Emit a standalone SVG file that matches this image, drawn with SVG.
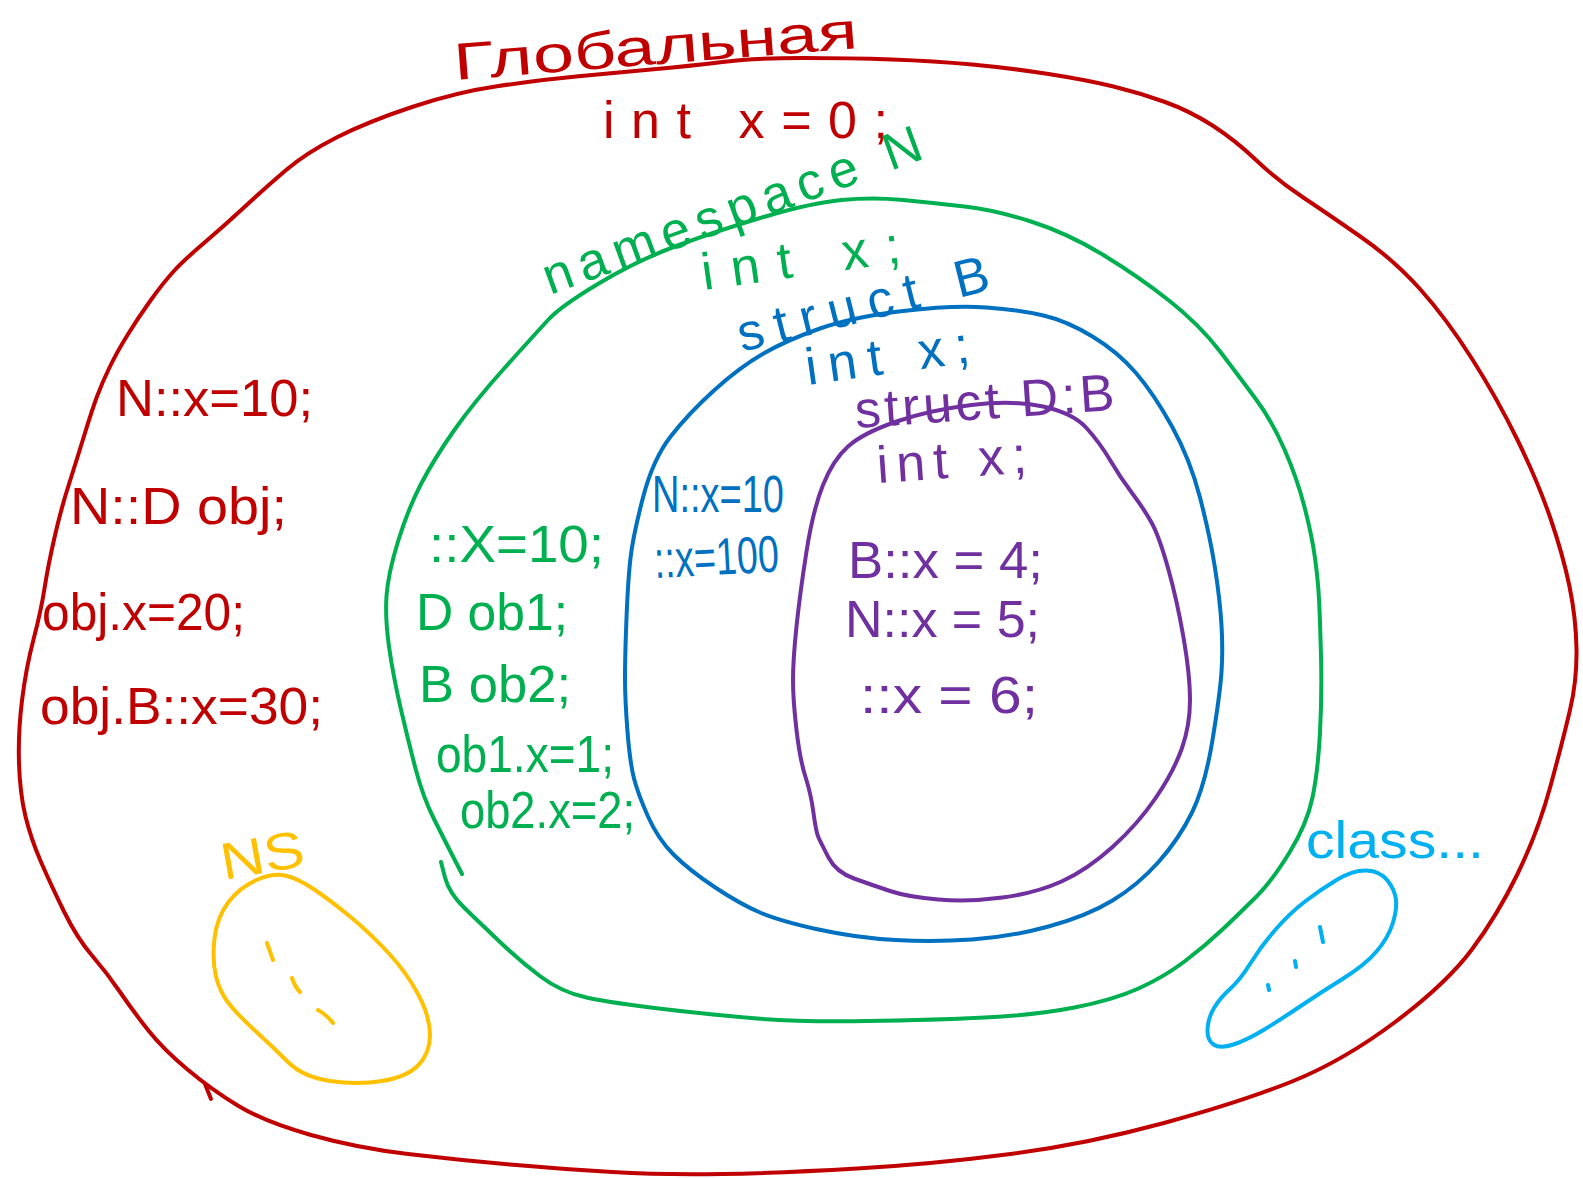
<svg xmlns="http://www.w3.org/2000/svg" width="1583" height="1178" viewBox="0 0 1583 1178">
<style>
.o{fill:none;stroke-width:4;stroke-linecap:round;stroke-linejoin:round}
.t{font-family:"Liberation Sans","DejaVu Sans",sans-serif;font-size:52px}
.red{stroke:#c00000}.tr{fill:#c00000}
.grn{stroke:#00b050}.tg{fill:#00b050}
.blu{stroke:#0070c0}.tb{fill:#0070c0}
.pur{stroke:#7030a0}.tp{fill:#7030a0}
.yel{stroke:#ffc000}.ty{fill:#ffc000}
.cya{stroke:#00b0f0}.tc{fill:#00b0f0}
</style>
<rect width="1583" height="1178" fill="#ffffff"/>

<g id="global-scope">
<path class="o red" d="M 412,107 Q 457,92 498.5,86 Q 540,80 576,76.5 Q 612,73 651,69.5 Q 690,66 722.5,62 Q 755,58 802.5,58 Q 850,58 892,59.5 Q 934,61 972,64.5 Q 1010,68 1048.5,74 Q 1087,80 1113.5,86.5 Q 1140,93 1165,102 Q 1190,111 1212.5,125.5 Q 1235,140 1256,160 Q 1277,180 1302.5,197 Q 1328,214 1361,237 Q 1394,260 1420,289 Q 1446,318 1471.5,358 Q 1497,398 1517.5,440 Q 1538,482 1550.5,518.5 Q 1563,555 1569.5,586.5 Q 1576,618 1576.5,649 Q 1577,680 1570,710 Q 1563,740 1550.5,786 Q 1538,832 1517.5,874 Q 1497,916 1471.5,950 Q 1446,984 1394.5,1022.5 Q 1343,1061 1292,1081.5 Q 1241,1102 1164,1123 Q 1087,1144 1010.5,1154 Q 934,1164 857,1168.5 Q 780,1173 721.5,1174 Q 663,1175 612,1172 Q 561,1169 510,1164.5 Q 459,1160 408,1154 Q 357,1148 311,1135 Q 265,1122 238.5,1106 Q 212,1090 187.5,1069.5 Q 163,1049 148,1030 Q 133,1011 120,992 Q 107,973 92,955.5 Q 77,938 64,911.5 Q 51,885 41,862 Q 31,839 25.5,816.5 Q 20,794 19,763.5 Q 18,733 22,700.5 Q 26,668 33.5,639.5 Q 41,611 44.5,588.5 Q 48,566 54.5,537.5 Q 61,509 69,484 Q 77,459 84.5,434.5 Q 92,410 97,396.5 Q 102,383 109.5,367.5 Q 117,352 127.5,335 Q 138,318 150.5,300.5 Q 163,283 173.5,271.5 Q 184,260 204,243 Q 224,226 244.5,207 Q 265,188 285.5,170.5 Q 306,153 336.5,137.5 Q 367,122 412,107 Z"/>
<path class="o red" d="M 205,1084 L 211,1099"/>
<text class="t tr" x="455" y="80" font-size="58" textLength="405" lengthAdjust="spacingAndGlyphs" transform="rotate(-4.5 455 80)">Глобальная</text>
<text class="t tr" x="603" y="138" font-size="54" textLength="285" lengthAdjust="spacing">int x=0;</text>
<text class="t tr" x="116" y="416" font-size="54" textLength="197" lengthAdjust="spacingAndGlyphs">N::x=10;</text>
<text class="t tr" x="70" y="524" font-size="54" textLength="217" lengthAdjust="spacingAndGlyphs">N::D obj;</text>
<text class="t tr" x="42" y="630" font-size="54" textLength="203" lengthAdjust="spacingAndGlyphs">obj.x=20;</text>
<text class="t tr" x="40" y="724" font-size="54" textLength="283" lengthAdjust="spacingAndGlyphs">obj.B::x=30;</text>
</g>

<g id="namespace-N">
<path class="o grn" d="M 441,862 L 445,877.5 Q 449,893 464.5,908 Q 480,923 500,942 Q 520,961 540.5,976.5 Q 561,992 586.5,997.5 Q 612,1003 663,1009 Q 714,1015 757,1018.5 Q 800,1022 867,1021 Q 934,1020 985,1017.5 Q 1036,1015 1074.5,1007.5 Q 1113,1000 1138.5,988.5 Q 1164,977 1184.5,961.5 Q 1205,946 1223,929 Q 1241,912 1256.5,896.5 Q 1272,881 1289.5,852.5 Q 1307,824 1312.5,797.5 Q 1318,771 1320,732.5 Q 1322,694 1321,656 Q 1320,618 1319,599 Q 1318,580 1315,558 Q 1312,536 1304.5,507 Q 1297,478 1284.5,449.5 Q 1272,421 1256.5,400 Q 1241,379 1220.5,352 Q 1200,325 1169,300.5 Q 1138,276 1102.5,254.5 Q 1067,233 1031,221.5 Q 995,210 964.5,206.5 Q 934,203 903,200 Q 872,197 841.5,200 Q 811,203 765.5,216.5 Q 720,230 679,245 Q 638,260 599.5,283 Q 561,306 548.5,319.5 Q 536,333 505,367.5 Q 474,402 454,430.5 Q 434,459 421,484 Q 408,509 398,541.5 Q 388,574 386.5,596 Q 385,618 389,646.5 Q 393,675 400.5,707.5 Q 408,740 415.5,768.5 Q 423,797 433.5,818 Q 444,839 453,856.5 L 462,874"/>
<text class="t tg" x="550" y="295" font-size="62" textLength="400" lengthAdjust="spacing" transform="rotate(-20 550 295)">namespace N</text>
<text class="t tg" x="704" y="290" font-size="54" textLength="200" lengthAdjust="spacing" transform="rotate(-8 704 290)">int x;</text>
<text class="t tg" x="429" y="562" font-size="54" textLength="175" lengthAdjust="spacingAndGlyphs">::X=10;</text>
<text class="t tg" x="416" y="630" font-size="52" textLength="152" lengthAdjust="spacingAndGlyphs">D ob1;</text>
<text class="t tg" x="419" y="702" font-size="52" textLength="152" lengthAdjust="spacingAndGlyphs">B ob2;</text>
<text class="t tg" x="436" y="772" font-size="50" textLength="178" lengthAdjust="spacingAndGlyphs">ob1.x=1;</text>
<text class="t tg" x="460" y="828" font-size="50" textLength="175" lengthAdjust="spacingAndGlyphs">ob2.x=2;</text>
</g>

<g id="struct-B">
<path class="o blu" d="M 820,328.5 Q 853,317 903,311 Q 953,305 986.5,307.5 Q 1020,310 1043.5,315.5 Q 1067,321 1092.5,336.5 Q 1118,352 1136,373 Q 1154,394 1172,426.5 Q 1190,459 1200,497.5 Q 1210,536 1215,568 Q 1220,600 1221.5,625 Q 1223,650 1221.5,672 Q 1220,694 1212.5,740 Q 1205,786 1192,812.5 Q 1179,839 1158.5,862 Q 1138,885 1112.5,900.5 Q 1087,916 1048.5,926.5 Q 1010,937 972,939.5 Q 934,942 895.5,940 Q 857,938 818.5,929.5 Q 780,921 760,912.5 Q 740,904 714.5,887 Q 689,870 673.5,854.5 Q 658,839 648,816.5 Q 638,794 634,778.5 Q 630,763 627.5,731.5 Q 625,700 625,678 Q 625,656 626.5,618 Q 628,580 630.5,558 Q 633,536 643,497.5 Q 653,459 671,436 Q 689,413 714.5,390 Q 740,367 763.5,353.5 Q 787,340 820,328.5 Z"/>
<text class="t tb" x="742" y="352" font-size="56" textLength="258" lengthAdjust="spacing" transform="rotate(-14 742 352)">struct B</text>
<text class="t tb" x="808" y="385" font-size="52" textLength="165" lengthAdjust="spacing" transform="rotate(-8 808 385)">int x;</text>
<text class="t tb" x="652" y="512" font-size="42" textLength="132" lengthAdjust="spacingAndGlyphs">N::x=10</text>
<text class="t tb" x="655" y="578" font-size="36" textLength="125" lengthAdjust="spacingAndGlyphs" transform="rotate(-3 655 578)">::x=100</text>
</g>

<g id="struct-D">
<path class="o pur" d="M 828.5,857.5 Q 836,872 854,878.5 Q 872,885 890,891 Q 908,897 938.5,899.5 Q 969,902 1002.5,897.5 Q 1036,893 1061.5,881.5 Q 1087,870 1112.5,847 Q 1138,824 1156,797.5 Q 1174,771 1182,748 Q 1190,725 1190,700 Q 1190,675 1183.5,637.5 Q 1177,600 1168,568 Q 1159,536 1151.5,522.5 Q 1144,509 1132,493 Q 1120,477 1110,460 Q 1100,443 1086.5,428 Q 1073,413 1043,406.5 Q 1013,400 971.5,405 Q 930,410 896.5,421.5 Q 863,433 848,446.5 Q 833,460 823,485 Q 813,510 806.5,551.5 Q 800,593 796.5,626.5 Q 793,660 793,680 Q 793,700 796.5,730 Q 800,760 805.5,777 Q 811,794 813.5,813 Q 816,832 818.5,837.5 Q 821,843 828.5,857.5 Z"/>
<text class="t tp" x="856" y="428" font-size="52" textLength="260" lengthAdjust="spacing" transform="rotate(-4 856 428)">struct D:B</text>
<text class="t tp" x="878" y="483" font-size="52" textLength="150" lengthAdjust="spacing" transform="rotate(-4 878 483)">int x;</text>
<text class="t tp" x="848" y="578" font-size="52" textLength="195" lengthAdjust="spacingAndGlyphs">B::x = 4;</text>
<text class="t tp" x="845" y="637" font-size="52" textLength="195" lengthAdjust="spacingAndGlyphs">N::x = 5;</text>
<text class="t tp" x="860" y="713" font-size="52" textLength="178" lengthAdjust="spacingAndGlyphs">::x = 6;</text>
</g>

<g id="other-namespace">
<path class="o yel" d="M 285,875.5 Q 273,873 256.5,880 Q 240,887 228.5,902 Q 217,917 214.5,938.5 Q 212,960 216,976.5 Q 220,993 230,1005 Q 240,1017 256.5,1032 Q 273,1047 288,1062 Q 303,1077 330,1081 Q 357,1085 382,1081 Q 407,1077 418.5,1065 Q 430,1053 430,1035 Q 430,1017 418.5,995 Q 407,973 388.5,953 Q 370,933 350,916.5 Q 330,900 313.5,889 Q 297,878 285,875.5 Z"/>
<path class="o yel" d="M 267,943 L 273,960 M 292,978 Q 295,987 300,992 M 318,1010 Q 326,1014 333,1023"/>
<text class="t ty" x="224" y="880" font-size="50" textLength="84" lengthAdjust="spacingAndGlyphs" transform="rotate(-10 224 880)">NS</text>
</g>

<g id="other-class">
<path class="o cya" d="M 1336.5,880 Q 1353,870 1366.5,870.5 Q 1380,871 1387.5,880.5 Q 1395,890 1396,900 Q 1397,910 1392.5,924 Q 1388,938 1376.5,951.5 Q 1365,965 1342.5,979 Q 1320,993 1300,1006.5 Q 1280,1020 1263.5,1030 Q 1247,1040 1233.5,1044.5 Q 1220,1049 1213.5,1044.5 Q 1207,1040 1207.5,1029 Q 1208,1018 1214,1008 Q 1220,998 1230,989 Q 1240,980 1251,962.5 Q 1262,945 1276,929 Q 1290,913 1305,901.5 Q 1320,890 1336.5,880 Z"/>
<path class="o cya" stroke-width="3" d="M 1320,927 L 1323,942 M 1295,961 L 1296,967 M 1268,985 L 1269,990"/>
<text class="t tc" x="1306" y="858" font-size="66" textLength="178" lengthAdjust="spacingAndGlyphs">class...</text>
</g>
</svg>
